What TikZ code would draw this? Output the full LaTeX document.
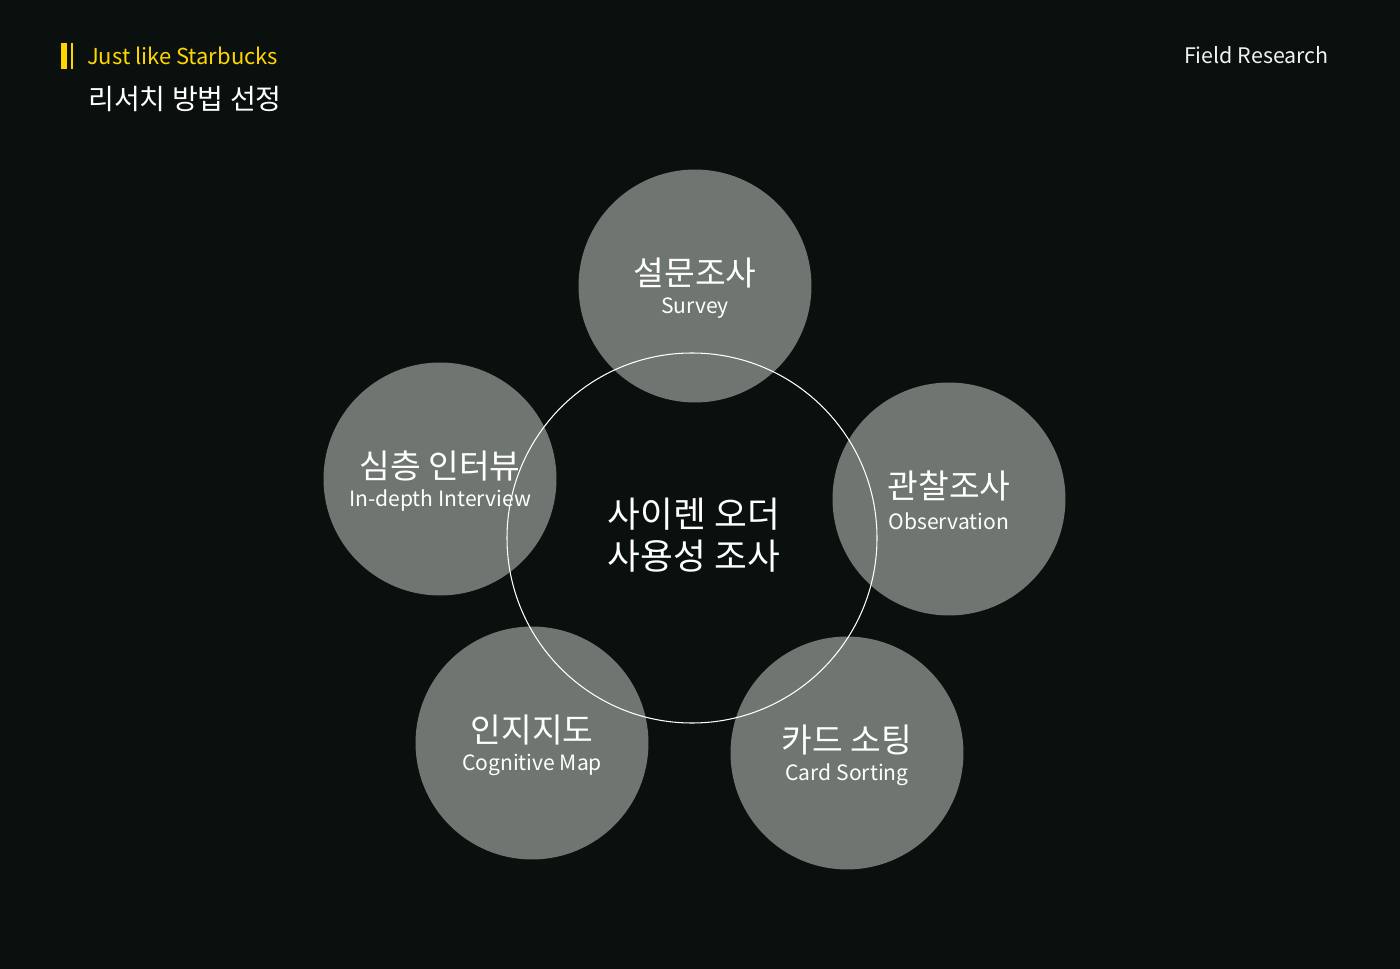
\documentclass[tikz,border=0pt]{standalone}
\usepackage{fontspec}
\setmainfont{Noto Sans CJK KR}
\definecolor{bgdark}{HTML}{0A100D}
\definecolor{methodgray}{HTML}{6F7570}
\definecolor{sbyellow}{HTML}{FFD500}
\definecolor{softwhite}{HTML}{F2F2F2}

\begin{document}
\begin{tikzpicture}[x=0.02cm,y=-0.02cm,
	method/.style={circle,fill=methodgray,minimum size=4.66cm,inner sep=0pt},
	kor/.style={text=white,font=\fontsize{19}{22}\selectfont},
	eng/.style={text=white,font=\fontsize{12}{14}\selectfont}]
	% background
	\fill[bgdark] (0,0) rectangle (1400,969);
	\useasboundingbox (0,0) rectangle (1400,969);
	% header
	\fill[sbyellow] (61,43) rectangle (67,69);
	\fill[sbyellow] (71,43) rectangle (73,69);
	\node[anchor=west,text=sbyellow,font=\fontsize{12.5}{14}\selectfont] (sub) at (81,56) {Just like Starbucks};
	\node[anchor=west,text=white,font=\fontsize{16}{19}\selectfont] (title) at (82,99) {리서치 방법 선정};
	\node[anchor=east,text=softwhite,font=\fontsize{12.2}{14}\selectfont] (field) at (1335,55) {Field Research};
	% method circles
	\node[method] (survey) at (695,286) {};
	\node[method] (interview) at (440,479) {};
	\node[method] (observe) at (949,499) {};
	\node[method] (cogmap) at (532,743) {};
	\node[method] (cards) at (847,753) {};
	% centre ring
	\draw[white,line width=0.6pt] (692,538) circle (185);
	\node[text=white,align=center,font=\fontsize{20.3}{24}\selectfont] (center) at (694,535) {사이렌 오더\\사용성 조사};
	% labels
	\node[kor] at ([yshift=7.6pt]survey) {설문조사};
	\node[eng] at ([yshift=-12.4pt]survey) {Survey};
	\node[kor] at ([yshift=7.6pt]interview) {심층 인터뷰};
	\node[eng] at ([yshift=-12.4pt]interview) {In-depth Interview};
	\node[kor] at ([yshift=7.6pt]observe) {관찰조사};
	\node[eng] at ([yshift=-12.4pt]observe) {Observation};
	\node[kor] at ([yshift=7.6pt]cogmap) {인지지도};
	\node[eng] at ([yshift=-12.4pt]cogmap) {Cognitive Map};
	\node[kor] at ([yshift=7.6pt]cards) {카드 소팅};
	\node[eng] at ([yshift=-12.4pt]cards) {Card Sorting};
\end{tikzpicture}
\end{document}
